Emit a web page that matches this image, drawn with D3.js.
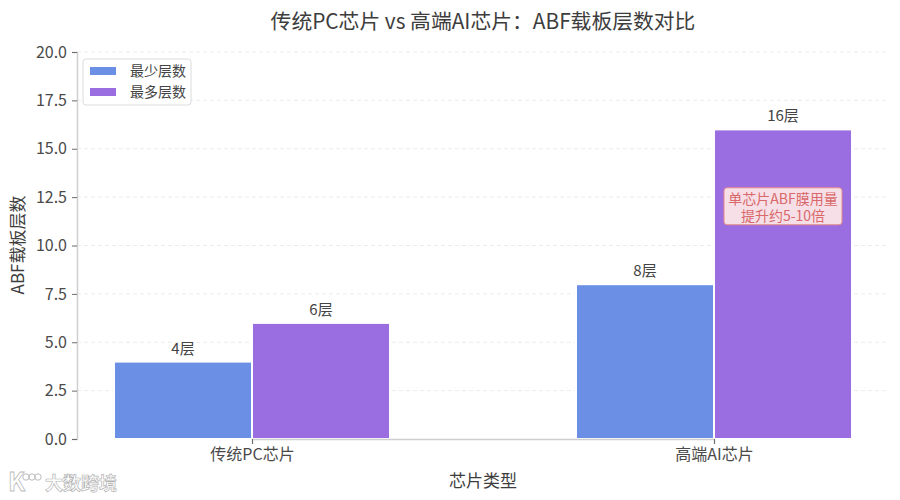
<html>
<head>
  <meta charset="utf-8">
  <script src="https://d3js.org/d3.v7.min.js"></script>
  <style>
  html, body { margin: 0; padding: 0; background: #fff; }
  svg { display: block; }
  text { font-family: "Noto Sans CJK SC", "Noto Sans", sans-serif; fill: #3d3d3d; }
  .y-axis text { font-size: 16px; fill: #4a4a4a; }
  .x-axis text { font-size: 16px; fill: #4a4a4a; }
  .y-axis path, .x-axis path { stroke: #cfcfcf; stroke-width: 1.5; }
  .y-axis line, .x-axis line { stroke: #6b6b6b; }
  .grid line { stroke: #ececec; stroke-dasharray: 4 3; }
  .val { font-size: 15px; fill: #444; }
  </style>
</head>
<body>
<div id="chart"></div>
<script type="text/javascript">
const categories = ["传统PC芯片", "高端AI芯片"];
const minLayers = [4, 8];
const maxLayers = [6, 16];
const seriesNames = ["最少层数", "最多层数"];
const seriesColors = ["#6a8fe4", "#9a6de0"];
const yTicks = [0, 2.5, 5, 7.5, 10, 12.5, 15, 17.5, 20];
const note = ["单芯片ABF膜用量", "提升约5-10倍"];

const svg = d3.select("#chart").append("svg").attr("width", 900).attr("height", 500);
const margin = { top: 52, bottom: 61, left: 77, right: 12 };
const width = 900 - margin.left - margin.right;
const height = 500 - margin.top - margin.bottom;
const chart = svg.append("g").attr("transform", `translate(${margin.left},${margin.top})`);

const xScale = d3.scalePoint().domain(categories).range([175, 637]);
const yScale = d3.scaleLinear().domain([0, 20]).range([height, 0]);
const barW = 138;

// grid first, bars sit over it
chart.append("g").attr("class", "grid")
  .selectAll("line").data(yTicks.slice(1)).join("line")
  .attr("x1", 0).attr("x2", width)
  .attr("y1", d => yScale(d)).attr("y2", d => yScale(d));

[minLayers, maxLayers].forEach((vals, s) => {
  const off = s === 0 ? -barW : 0;
  chart.append("g").selectAll("rect").data(vals).join("rect")
    .attr("x", (d, i) => xScale(categories[i]) + off)
    .attr("y", d => yScale(d))
    .attr("width", barW)
    .attr("height", d => height - yScale(d))
    .attr("fill", seriesColors[s])
    .attr("stroke", "#fff")
    .attr("stroke-width", 2);
  chart.append("g").selectAll("text").data(vals).join("text")
    .attr("class", "val")
    .attr("text-anchor", "middle")
    .attr("x", (d, i) => xScale(categories[i]) + off + barW / 2)
    .attr("y", d => yScale(d) - 8)
    .text(d => d + "层");
});

const yAxis = chart.append("g").attr("class", "y-axis")
  .call(d3.axisLeft(yScale).tickValues(yTicks).tickFormat(d3.format(".1f")).tickSizeOuter(0).tickSize(5).tickPadding(5));
const xAxis = chart.append("g").attr("class", "x-axis")
  .attr("transform", `translate(0,${height})`)
  .call(d3.axisBottom(xScale).tickSizeOuter(0).tickSize(5).tickPadding(5));

// annotation box on the tall bar
const noteX = xScale(categories[1]) + barW / 2;
const noteY = yScale(11.95);
chart.append("rect")
  .attr("x", noteX - 59).attr("y", noteY - 20)
  .attr("width", 118).attr("height", 37).attr("rx", 3)
  .attr("fill", "#f6dfe6").attr("stroke", "#e58a8a").attr("stroke-width", 1);
chart.append("text")
  .attr("text-anchor", "middle")
  .attr("y", noteY - 4)
  .style("font-size", "14px")
  .style("fill", "#d9686a")
  .selectAll("tspan").data(note).join("tspan")
  .attr("x", noteX)
  .attr("dy", (d, i) => i === 0 ? 0 : 17)
  .text(d => d);

// legend
const legend = svg.append("g").attr("transform", "translate(83,59)");
legend.append("rect")
  .attr("width", 108).attr("height", 46).attr("rx", 3)
  .attr("fill", "#fff").attr("stroke", "#dcdcdc").attr("stroke-width", 1);
seriesNames.forEach((name, i) => {
  legend.append("rect").attr("x", 7).attr("y", 8 + i * 21)
    .attr("width", 26).attr("height", 8).attr("fill", seriesColors[i]);
  legend.append("text").attr("x", 47).attr("y", 17 + i * 21)
    .style("font-size", "14px").style("fill", "#444").text(name);
});

svg.append("text").attr("text-anchor", "middle").attr("x", 483).attr("y", 29)
  .style("font-size", "20.8px").text("传统PC芯片 vs 高端AI芯片：ABF载板层数对比");
svg.append("text").attr("text-anchor", "middle").attr("x", 483).attr("y", 487)
  .style("font-size", "17px").text("芯片类型");
svg.append("text").attr("text-anchor", "middle")
  .attr("transform", "translate(24,245) rotate(-90)")
  .style("font-size", "17px").text("ABF载板层数");

// watermark bottom left
const wm = svg.append("g").attr("transform", "translate(8,472)");
wm.append("text").attr("x", 0).attr("y", 19)
  .style("font-size", "25px").style("font-weight", "700")
  .style("fill", "#fff").style("stroke", "#bcbcbc").style("stroke-width", 0.8).text("K");
wm.selectAll("circle").data([0, 1, 2]).join("circle")
  .attr("cx", d => 18 + d * 6).attr("cy", 5).attr("r", 3.2)
  .attr("fill", "none").attr("stroke", "#bcbcbc");
wm.append("text").attr("x", 37).attr("y", 18)
  .style("font-size", "18px").style("font-weight", "700")
  .style("fill", "#fff").style("stroke", "#b4b4b4").style("stroke-width", 0.7).text("大数跨境");
</script>
</body>
</html>
